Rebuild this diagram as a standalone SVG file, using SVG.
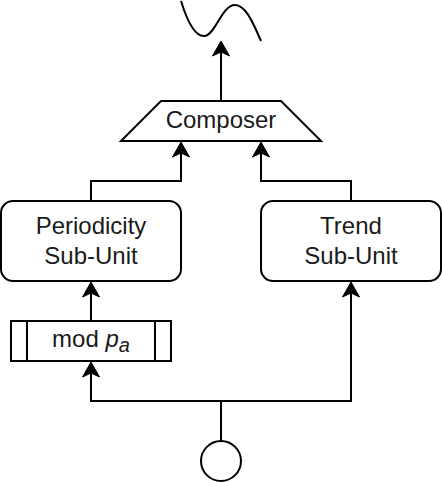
<svg xmlns="http://www.w3.org/2000/svg" width="442" height="482" viewBox="0 0 442 482">
  <style>
    .shape { fill: #ffffff; stroke: #000000; stroke-width: 2; }
    .edge { fill: none; stroke: #000000; stroke-width: 2; marker-end: url(#arrow); }
    .line { fill: none; stroke: #000000; stroke-width: 2; }
    .label { font-family: "Liberation Sans", Arial, Helvetica, sans-serif; font-size: 24px; fill: #1a1a1a; text-anchor: middle; }
  </style>
  <defs>
    <marker id="arrow" markerUnits="userSpaceOnUse" viewBox="-6 -10 20 20" refX="0" refY="0" markerWidth="20" markerHeight="20" orient="auto">
      <path d="M11,0 L-4,-8.5 L0,0 L-4,8.5 Z" fill="#000000" stroke="#000000" stroke-width="1" stroke-linejoin="miter"/>
    </marker>
  </defs>

  <g id="connectors">
    <path class="edge" d="M221,101 L221,52"/>
    <path class="edge" d="M91,201 L91,181 L181,181 L181,153"/>
    <path class="edge" d="M351,201 L351,181 L261,181 L261,153"/>
    <path class="edge" d="M91,321 L91,293"/>
    <path class="line" d="M221,441 L221,401"/>
    <path class="edge" d="M221,401 L91,401 L91,373"/>
    <path class="edge" d="M221,401 L351,401 L351,293"/>
  </g>

  <g id="output-wave">
    <path class="line" d="M181,1 C190,30 198,37 205,36 C215,35 222,5 235,5 C245,5 252,20 261,41"/>
  </g>

  <g id="composer">
    <polygon class="shape" points="161,101 281,101 321,141 121,141"/>
    <text class="label" x="221" y="128">Composer</text>
  </g>

  <g id="periodicity">
    <rect class="shape" x="1" y="201" width="180" height="80" rx="12" ry="12"/>
    <text class="label" x="91" y="234">Periodicity</text>
    <text class="label" x="91" y="264">Sub-Unit</text>
  </g>

  <g id="trend">
    <rect class="shape" x="261" y="201" width="180" height="80" rx="12" ry="12"/>
    <text class="label" x="351" y="234">Trend</text>
    <text class="label" x="351" y="264">Sub-Unit</text>
  </g>

  <g id="mod">
    <rect class="shape" x="11" y="321" width="160" height="40"/>
    <line class="line" x1="27" y1="321" x2="27" y2="361"/>
    <line class="line" x1="155" y1="321" x2="155" y2="361"/>
    <text class="label" x="91" y="347">mod <tspan font-style="italic">p</tspan><tspan font-style="italic" font-size="20" dy="5">a</tspan></text>
  </g>

  <g id="input">
    <circle class="shape" cx="221" cy="461" r="20"/>
  </g>
</svg>
